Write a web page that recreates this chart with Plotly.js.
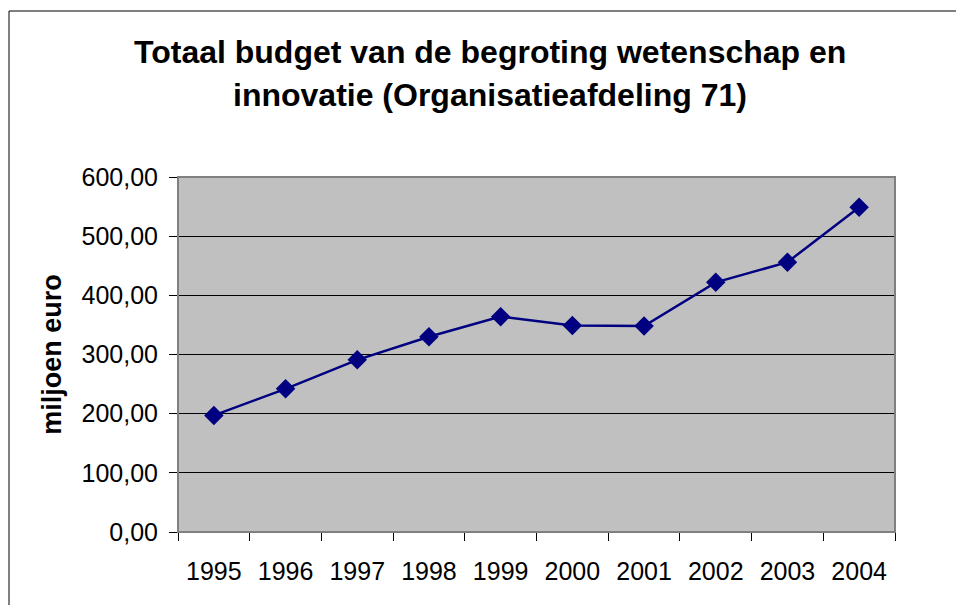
<!DOCTYPE html>
<html>
<head>
<meta charset="utf-8">
<script src="https://cdn.plot.ly/plotly-3.0.1.min.js"></script>
<style>
html,body{margin:0;padding:0;background:#fff;}
#chart{width:956px;height:605px;}
</style>
</head>
<body>
<div id="chart"></div>
<script>
const years = ["1995","1996","1997","1998","1999","2000","2001","2002","2003","2004"];
const budget = [197, 242, 291, 330, 364, 349, 348, 422, 456, 549];
const yTicks = [0, 100, 200, 300, 400, 500, 600];
const titleLines = ["Totaal budget van de begroting wetenschap en", "innovatie (Organisatieafdeling 71)"];

const L = 178, R = 895, T = 177, B = 532, W = 956, H = 605;
const px = x => (x - L) / (R - L);
const py = y => (B - y) / (B - T);

const trace = {
  x: years,
  y: budget,
  type: 'scatter',
  mode: 'lines+markers',
  line: {color: '#000080', width: 2.5},
  marker: {symbol: 'diamond', size: 15, color: '#000080'},
  hoverinfo: 'x+y'
};

const titleFont = {size: 32, family: 'Liberation Sans, Arial, sans-serif', color: '#000', weight: 'bold'};

const layout = {
  width: W, height: H,
  margin: {l: L, r: W - R, t: T, b: H - B, pad: 0},
  paper_bgcolor: '#ffffff',
  plot_bgcolor: '#c0c0c0',
  separators: ',.',
  showlegend: false,
  font: {family: 'Liberation Sans, Arial, sans-serif', color: '#000'},
  xaxis: {
    type: 'category',
    range: [-0.5, years.length - 0.5],
    autorange: false,
    tickson: 'boundaries',
    ticks: 'outside', ticklen: 8, tickcolor: '#000', tickwidth: 1,
    showline: true, linecolor: '#000', linewidth: 1,
    showgrid: false, zeroline: false,
    tickfont: {size: 25, color: '#000'},
    ticklabelstandoff: 17,
    fixedrange: true
  },
  yaxis: {
    range: [0, 600],
    autorange: false,
    tickvals: yTicks,
    tickformat: '.2f',
    ticks: 'outside', ticklen: 8, tickcolor: '#000', tickwidth: 1,
    showline: true, linecolor: '#000', linewidth: 1,
    showgrid: true, gridcolor: '#000', gridwidth: 1,
    zeroline: false,
    tickfont: {size: 25, color: '#000'},
    ticklabelstandoff: 6,
    title: {text: 'miljoen euro', font: {size: 27, color: '#000', weight: 'bold'}, standoff: 12},
    automargin: false,
    fixedrange: true
  },
  annotations: [
    {text: titleLines[0], xref: 'paper', yref: 'paper', x: px(490), y: py(52),
     xanchor: 'center', yanchor: 'middle', showarrow: false, font: titleFont},
    {text: titleLines[1], xref: 'paper', yref: 'paper', x: px(490), y: py(95),
     xanchor: 'center', yanchor: 'middle', showarrow: false, font: titleFont}
  ],
  shapes: [
    {type: 'rect', xref: 'paper', yref: 'paper', x0: 0, x1: 1, y0: 0, y1: 1,
     line: {color: '#808080', width: 2}, layer: 'above'},
    {type: 'line', xref: 'paper', yref: 'paper', x0: px(9), x1: px(W + 20), y0: py(11), y1: py(11),
     line: {color: '#000', width: 1}},
    {type: 'line', xref: 'paper', yref: 'paper', x0: px(9), x1: px(9), y0: py(11), y1: py(H + 20),
     line: {color: '#000', width: 1}}
  ]
};

Plotly.newPlot('chart', [trace], layout, {displayModeBar: false, staticPlot: true});
</script>
</body>
</html>
